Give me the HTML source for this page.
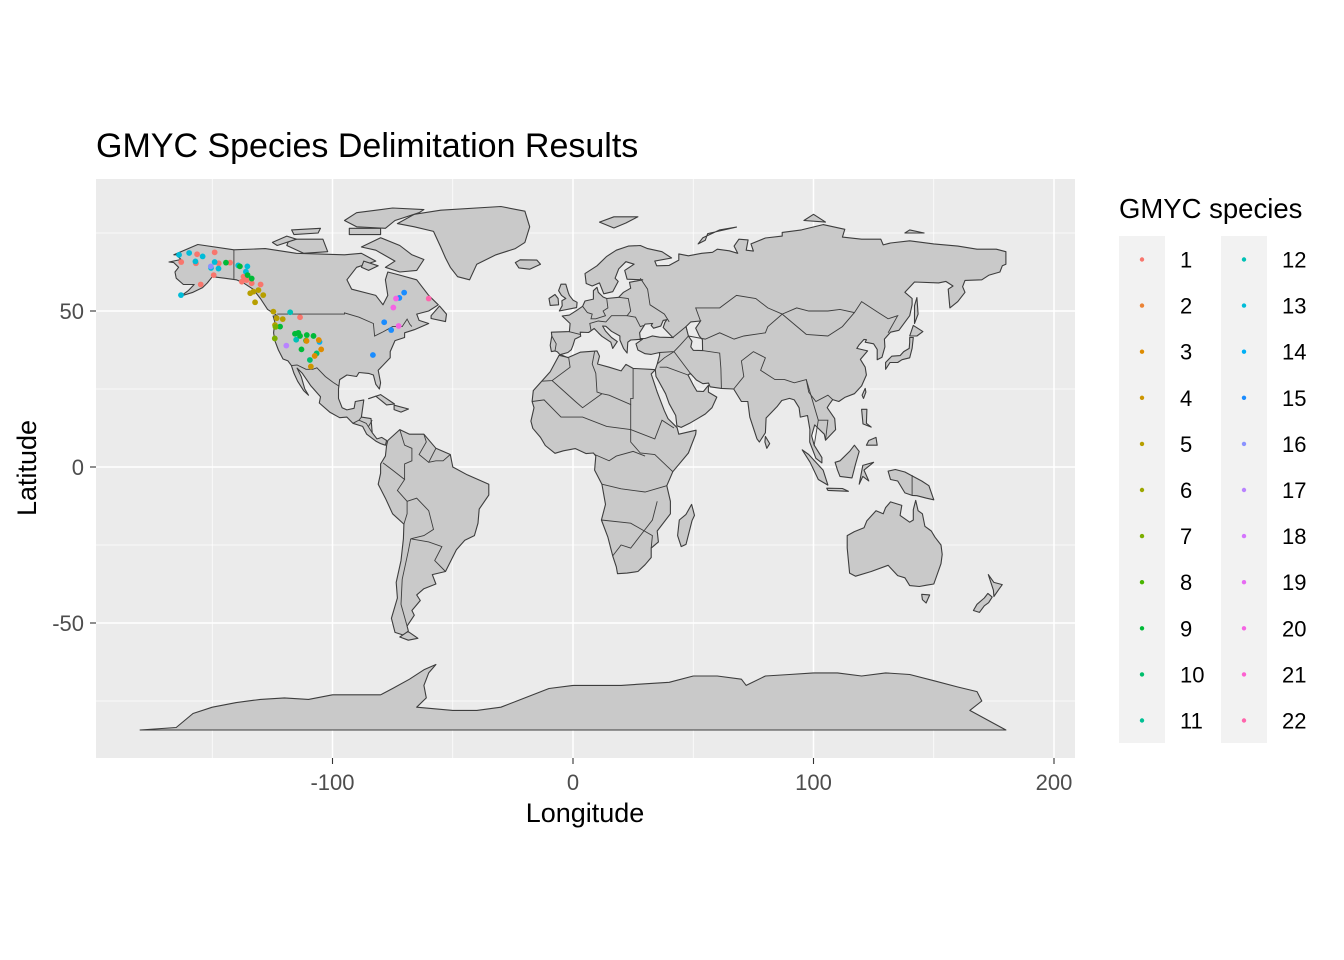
<!DOCTYPE html>
<html><head><meta charset="utf-8"><style>
body{margin:0;background:#fff;}
svg{display:block;font-family:"Liberation Sans",Arial,sans-serif;}
</style></head><body>
<svg id="chart" width="1344" height="960" viewBox="0 0 1344 960">
<defs><clipPath id="pclip"><rect x="96" y="179" width="979" height="579"/></clipPath></defs>
<text x="96" y="157" font-size="34" fill="#000">GMYC Species Delimitation Results</text>
<rect x="96" y="179" width="979" height="579" fill="#ebebeb"/>
<g id="grid"></g>
<g id="land" clip-path="url(#pclip)"></g>
<g id="pts" clip-path="url(#pclip)"></g>
<g id="axes"></g>
<text x="585" y="822" font-size="27" text-anchor="middle">Longitude</text>
<text transform="translate(36,468) rotate(-90)" font-size="27" text-anchor="middle">Latitude</text>
<text x="1119" y="218" font-size="27.5">GMYC species</text>
<g id="legend"></g>
</svg>
<script>
const NS="http://www.w3.org/2000/svg";
const xTicks=[-100,0,100,200];
const yTicks=[-50,0,50];
const xMinor=[-150,-50,50,150];
const yMinor=[-75,-25,25,75];
const speciesLabels=["1","2","3","4","5","6","7","8","9","10","11","12","13","14","15","16","17","18","19","20","21","22"];
const speciesColors=["#F8766D","#EB8335","#DE8C00","#CD9600","#B79F00","#9DA700","#7CAE00","#49B500","#00BA38","#00BE6C","#00C094","#00C1B5","#00BCD8","#00B0F6","#1A8CFF","#8B93FF","#B983FF","#D575FE","#E76BF3","#F564E3","#FD61D1","#FF65AC"];
const ptLon=[-156.3,-149.0,-162.9,-156.8,-147.3,-142.6,-149.4,-154.8,-137.0,-135.7,-137.7,-133.6,-129.9,-113.5,
-163.8,-159.6,-154.0,-157.0,-149.0,-150.5,-147.4,-139.2,-135.4,-136.0,-163.0,-117.6,-115.1,-105.4,
-144.3,-138.5,-135.3,-133.6,-113.5,-110.7,-107.9,-111.0,-115.6,-114.2,-121.8,-112.9,-106.6,-109.4,
-132.9,-130.8,-128.8,-132.2,-124.6,-123.2,-120.7,-123.9,-134.2,
-124.0,-123.7,
-110.8,-105.7,-104.7,-107.4,-109.0,
-119.2,-150.6,
-70.2,-72.2,-78.5,-75.6,-83.2,
-73.6,-74.7,-72.5,-60.0];
const ptLat=[68.2,68.8,65.7,65.3,65.3,65.5,61.5,58.5,61.0,59.9,59.4,58.9,58.5,48.0,
68.0,68.6,67.5,65.9,65.7,63.8,63.6,64.6,64.3,62.6,55.1,49.6,40.8,40.1,
65.5,64.3,61.5,60.4,42.0,42.3,42.0,40.5,42.7,43.0,45.0,37.7,36.4,34.3,
56.2,56.7,55.1,52.8,49.8,47.7,47.4,45.5,55.7,
41.2,44.9,
40.4,40.7,37.7,35.6,32.2,
38.9,64.3,
55.9,54.2,46.4,43.9,35.9,
54.0,51.1,45.2,54.0];
const ptSpecies=[1,1,1,1,1,1,1,1,1,1,1,1,1,1,
13,13,13,13,13,13,13,13,13,13,13,12,12,14,
9,9,9,9,9,9,9,9,9,9,9,9,10,10,
5,5,5,5,5,5,5,5,5,
7,7,
3,3,3,3,4,
17,16,
15,15,15,15,15,
20,20,20,22];

const X=lon=>573+2.405*lon, Y=lat=>467-3.12*lat;
function mk(tag,attrs,parent){const e=document.createElementNS(NS,tag);for(const k in attrs)e.setAttribute(k,attrs[k]);parent.appendChild(e);return e;}
const grid=document.getElementById('grid');
xMinor.forEach(v=>{const l=mk('line',{x1:X(v),x2:X(v),y1:179,y2:758,stroke:'#fff','stroke-width':0.7},grid);

});
yMinor.forEach(v=>{const l=mk('line',{x1:96,x2:1075,y1:Y(v),y2:Y(v),stroke:'#fff','stroke-width':0.7},grid);

});
xTicks.forEach(v=>{const l=mk('line',{x1:X(v),x2:X(v),y1:179,y2:758,stroke:'#fff','stroke-width':1.5},grid);

});
yTicks.forEach(v=>{const l=mk('line',{x1:96,x2:1075,y1:Y(v),y2:Y(v),stroke:'#fff','stroke-width':1.5},grid);

});
const axes=document.getElementById('axes');
xTicks.forEach(v=>{const t=mk('line',{x1:X(v),x2:X(v),y1:758,y2:764,stroke:'#333','stroke-width':1.1},axes);


const s=mk('text',{x:X(v),y:790,'font-size':22,'text-anchor':'middle',fill:'#4d4d4d'},axes);s.textContent=String(v);

});
yTicks.forEach(v=>{const t=mk('line',{x1:90,x2:96,y1:Y(v),y2:Y(v),stroke:'#333','stroke-width':1.1},axes);


const s=mk('text',{x:84,y:Y(v)+8,'font-size':22,'text-anchor':'end',fill:'#4d4d4d'},axes);s.textContent=String(v);

});

const land={
northamerica:[[-166,68],[-156,71.3],[-141,69.6],[-128,70],[-115,68.5],[-95,68],[-88,68.5],[-82,66],[-90,64],[-94,60],[-92,57],[-82,55],[-79,52],[-77,55],[-78,60],[-77,62.5],[-72,61.5],[-65,60],[-62,57],[-60,55],[-56,52],[-60,50],[-65,49],[-64,47],[-60,46],[-66,44],[-70,43],[-70,41.5],[-74,40.5],[-76,37],[-76,35],[-81,31],[-80,27],[-80.5,25],[-82,26.5],[-83,29.5],[-85,30],[-89,30.3],[-90,29],[-94,29.5],[-97,28],[-97.5,25],[-97.5,22],[-96,19],[-94,18.3],[-91,18.8],[-90.5,21],[-87,21.5],[-88,16],[-84,15.5],[-83.5,11],[-81.5,9],[-79.5,9.5],[-77.5,8.5],[-78,7],[-80,7.5],[-82,8.3],[-85.8,10.5],[-87.5,13],[-91.5,14],[-94,16],[-97,15.8],[-101,17.5],[-105.5,20.5],[-105,22.5],[-109,26],[-112.5,30],[-114.7,31.7],[-113,29],[-111.5,25],[-110,23],[-112,24.5],[-114.5,27.5],[-116,30],[-117.1,32.5],[-118.5,34],[-120.6,34.6],[-122.5,37.5],[-124,40.5],[-124.5,43],[-124,46.5],[-124.7,48.4],[-123,48.5],[-127,50.5],[-130,54],[-133,57],[-137,59],[-140,60],[-145,60.5],[-150,61],[-152,59],[-154,57.5],[-158,56],[-163,54.8],[-160,56.5],[-157.5,58.5],[-162,58.5],[-165,60.5],[-165.5,62.5],[-164,64],[-166,65.5],[-168,65.7],[-163,66.5],[-165,68]],
greenland:[[-73,78],[-66,81],[-55,82.3],[-30,83.5],[-20,82],[-18,77],[-20,72],[-24,70],[-32,68],[-40,65],[-43,60],[-48,61],[-51,64],[-53,67],[-55,70.5],[-58,75.5],[-66,77]],
baffin:[[-80,73.5],[-72,71],[-67,68],[-62,66.5],[-65,63],[-72,62.5],[-78,64],[-74,66],[-82,69.5],[-88,70.5]],
victoria:[[-118,73],[-104,73],[-102,69],[-112,68.5],[-119,71]],
ellesmere:[[-90,77],[-78,76.5],[-74,79],[-64,81.5],[-62,82.5],[-75,83],[-90,81.5],[-95,79]],
banks:[[-125,72],[-119,74],[-115,73],[-123,71]],
devon:[[-93,76.5],[-80,76.5],[-80,74.5],[-93,74.5]],
melville:[[-117,76],[-105,76.5],[-106,75],[-116,74.5]],
southampton:[[-87,66],[-81,64.5],[-85,63],[-88,64]],
newfoundland:[[-59,47.6],[-53,46.6],[-52.6,49],[-55.5,51.6],[-59,48.5]],
iceland:[[-24,65.5],[-22,66.4],[-15,66.3],[-13.5,65],[-18,63.4],[-22.5,63.8]],
cuba:[[-85,21.9],[-80,23.2],[-74.2,20.2],[-77.5,19.9],[-82,22.7]],
hispaniola:[[-74.4,19.8],[-68.4,18.6],[-71.5,17.6],[-74.4,18.4]],
southamerica:[[-77,8.5],[-72,12],[-68,10.5],[-62,10.5],[-57,6],[-51,4],[-50,0],[-44,-2.5],[-35,-5.5],[-35,-9],[-39,-13.5],[-39.5,-18],[-41,-22],[-45,-23.5],[-48.5,-26.5],[-53,-33.5],[-58.5,-34.5],[-57,-37.5],[-62,-39],[-65,-41],[-63.5,-42.8],[-67,-46],[-66,-47.5],[-69,-51],[-68.5,-52.5],[-70,-54],[-74,-53],[-75.5,-48.5],[-73,-42],[-73.5,-37],[-71.5,-30],[-70.5,-23],[-70.3,-18.3],[-75,-15],[-78,-10],[-81,-5.5],[-80,-2],[-80,1],[-78,3.5],[-77.5,7]],
fuego:[[-68.6,-52.7],[-64.5,-54.9],[-68.5,-55.5],[-72,-54.5]],
africa:[[-17,21],[-16.5,24.5],[-13,27.5],[-9.5,30.5],[-5.8,35.8],[-2,35.1],[3,36.8],[10,37.2],[11,35.5],[10.2,33],[15,32],[20,30.8],[22,32.9],[25,31.6],[32,31.3],[34.2,31.2],[32.5,29.8],[35,24],[38,18],[39.5,15.5],[43.3,12.6],[44,10.5],[51.2,11.8],[51,10.5],[48,4.5],[41.5,-1.5],[39,-6],[40.5,-11],[40.5,-15],[35,-20.5],[35.5,-24],[32.5,-26],[32.5,-29],[30,-31.3],[27,-33.5],[22.5,-34],[18.5,-34.2],[18,-32],[16.5,-28.5],[14.5,-22.5],[11.8,-17],[13.5,-12],[12,-5.5],[9,-1],[9.5,3.5],[8.5,4.5],[5.5,4.3],[1,5.9],[-4,5.2],[-7.5,4.4],[-11.5,6.9],[-13.5,9.5],[-16.7,12.4],[-17.5,14.7],[-16.2,19]],
madagascar:[[49.3,-12],[50.5,-15.5],[49.5,-17.2],[47,-24.8],[45,-25.5],[43.5,-22],[44.2,-17],[47,-15.2]],
eurasia:[[-9,37],[-9.5,39],[-8.8,42],[-9,43.2],[-1.5,43.4],[-1.2,46],[-4.5,48.4],[-1.5,48.7],[1.5,50.2],[4,51.5],[5,53.2],[8.5,53.8],[8.5,56.5],[10,57.6],[10.5,56],[12.5,54.5],[14,54],[19,54.4],[21,56],[24,57.3],[23.5,59.2],[29,60],[22.5,60.2],[21.5,63],[25.4,65],[22,65.8],[19,63.5],[17.5,60.5],[18.8,59.5],[16.5,56.2],[12.8,55.5],[11,59],[8,58],[5.5,58.8],[5,62],[10,64.5],[14,67.5],[18,69.5],[23,70.8],[28,71],[31,70],[37,69],[41,67],[34,66],[34.8,64.5],[40,64.6],[44,66.3],[44,68.3],[48,67.7],[53.5,68.5],[58,68.8],[60,69.8],[65,69.3],[68.5,68.5],[67,70.8],[69,73],[72.8,72.8],[72,69.5],[75,69.2],[74,71.5],[80,73.4],[87,74],[87,75.2],[95,76],[104,77.7],[113,76.2],[112,73.7],[120,73],[128,73],[129,71.2],[132,71.8],[140,72.5],[150,71.5],[160,70.8],[168,69.8],[176,69.8],[180,69],[180,65],[178.5,64.5],[177.5,62.5],[173,61.5],[170,60],[163,59.8],[162,57.8],[163,56],[160,53],[156.7,51],[156,57],[158,58],[155,59.5],[152,59],[142,59.3],[138,56],[141,54],[141,52],[140,48.5],[135.5,43.8],[132,43.2],[129.5,41],[129.7,38.5],[128.5,35.2],[126.5,34.4],[126.5,37.7],[125,39.5],[121.5,40],[122,40.8],[121,40.9],[119,39.2],[118,38],[122.5,37.2],[119.5,34.5],[121.5,32],[122,29.5],[120,26],[117,23.5],[113,22.3],[110.5,21],[108,21.6],[106.5,20],[105.7,19],[108.8,15.5],[109.2,12],[105,8.6],[104.5,10.5],[100.5,13.5],[99.2,10],[100.3,7],[103.5,3],[103.5,1.3],[101,2.8],[98.4,8],[98.5,12],[97.5,16.5],[94.5,16],[94,19],[92,21.5],[90,22],[86.8,21.3],[85,19.5],[80.3,15.7],[80,11],[77.5,8],[76.5,9],[73.5,16],[72.7,21],[70,21],[66.8,25],[61.7,25.2],[57,25.7],[56.4,26.9],[54,26.7],[51.3,27.9],[48.8,30],[47.8,29.5],[50.2,26],[51.5,24.3],[54.2,24.2],[56.3,26.2],[56.3,24],[59.8,22.4],[57.8,19],[55,17],[52,15.6],[48.5,14],[45,12.7],[43.2,13.2],[42.7,16.5],[40,20.3],[38.5,23.5],[35.2,28.1],[34.5,29],[34.2,31.2],[35,33],[36,35.8],[36,36.7],[32.5,36.1],[30,36.3],[27,37.5],[26.2,39.5],[29,41],[26,40.8],[24,40.7],[22.8,40],[22.5,36.5],[21,38],[19.5,40.7],[19.5,42],[16,43.5],[13.7,45.1],[12.3,45.2],[13.5,43.6],[16,41.5],[18.4,40.2],[16.5,38],[15.7,40],[12,41.9],[10.5,43],[8.8,44.4],[6.5,43.1],[3,43.2],[3.2,41.9],[0.8,41],[0,39],[-0.7,37.6],[-2.1,36.7],[-5.4,36],[-6.5,36.9],[-7.5,37.2]],
britain:[[-5.7,50],[1.5,51.1],[1.7,52.8],[0,53.5],[-1.5,55],[-2,56],[-3,58.6],[-5,58.6],[-6,56.5],[-4.8,55],[-3,54],[-4.6,53.3],[-4.5,51.7]],
ireland:[[-6,52],[-6.2,54],[-7.5,55.3],[-10,54],[-9.5,51.8]],
honshu:[[130,31.3],[131.8,33.5],[135,33.5],[136.8,34.4],[140,35],[141,38],[141.5,41.5],[140,41.5],[140,40],[139.8,38],[137.5,37],[136,35.7],[132.5,35.5],[130,33.5]],
hokkaido:[[140,42],[141.5,45.4],[145.5,43.4],[143,42]],
sakhalin:[[142,46],[143.5,49],[143,54.3],[142,51.7]],
srilanka:[[80,9.8],[81.8,7.5],[80.6,6],[79.8,8]],
taiwan:[[120.2,23],[121.5,25.2],[121.8,24],[120.8,22]],
luzon:[[120,18.5],[122.2,18.5],[122,14],[124,12.8],[120.6,13.8]],
mindanao:[[122,7],[126.5,7],[126,9.5],[123,8.5]],
borneo:[[109,1.5],[111,2],[115,5],[117,7],[119,5],[117.5,1],[116,-3.5],[111,-3],[110,-1]],
sumatra:[[95.3,5.5],[98,4],[104,-1],[106,-5.8],[102,-4],[98.6,1.5]],
java:[[105.5,-6.8],[112,-6.9],[114.5,-7.8],[106,-7.5]],
sulawesi:[[119,-5.5],[120.5,0.5],[125,1.5],[121,-1],[123,-4.5],[120.5,-3]],
newguinea:[[131,-1.3],[134,-0.8],[138,-1.6],[145,-4.5],[148,-6],[150,-10.5],[147,-10],[143,-9.2],[141,-9.1],[138,-8.3],[135,-4.5],[132,-4]],
australia:[[114,-22],[114,-26],[115,-34],[117.5,-35],[124,-33.5],[131,-31.5],[135,-34.8],[138,-35.5],[140,-38],[144,-38.3],[147,-37.9],[150,-37.5],[153,-31],[153.5,-28],[153,-25],[150.5,-22.5],[149,-20.5],[146.3,-19],[145.3,-15],[143.5,-14],[142.5,-10.7],[141.5,-13.7],[141.5,-17],[140,-17.7],[136,-15.5],[136.7,-12.3],[132,-11.2],[130,-13],[129,-15],[126,-14],[122.2,-17.2],[121,-19.5],[117,-20.7]],
tasmania:[[145,-40.8],[148.3,-41],[146.8,-43.6],[145.3,-42.5]],
nznorth:[[172.7,-34.5],[175,-37],[178.5,-37.7],[177,-39.3],[175,-41.5],[174.8,-39.5]],
nzsouth:[[172.5,-40.5],[174.3,-41.7],[172.8,-43.5],[171,-44.5],[169,-46.6],[166.5,-46],[168,-44],[171,-42]],
novayazemlya:[[52,71.5],[55,72.7],[56,74.8],[68,76.9],[61,76],[54,73.5]],
svalbard:[[11,78.5],[17,76.6],[22,78.2],[27,80.2],[17,80.2]],
severnaya:[[96,79],[105,78.5],[100,81]],
newsiberia:[[138,75],[146,75],[140,76]],
antarctica:[[-180,-84.3],[-165,-83.5],[-158,-79],[-150,-77],[-140,-75.5],[-130,-74.5],[-120,-74],[-110,-74.5],[-100,-73],[-90,-73],[-80,-73],[-75,-71],[-68,-68],[-62,-65],[-57,-63.3],[-60,-66],[-62,-70],[-61,-74],[-65,-77],[-50,-78],[-40,-78],[-30,-77],[-20,-74],[-10,-71],[0,-70],[10,-70],[20,-70],[30,-69.5],[40,-69],[50,-67],[60,-67],[70,-68],[72,-70],[80,-67],[90,-66.5],[100,-66],[110,-66],[120,-67],[130,-66],[140,-66.5],[150,-68.5],[160,-70.5],[168,-72],[170,-75],[165,-78],[180,-84.3]]
};
const seas={
blacksea:[[28,41.2],[27.7,43],[30,45.8],[33,46],[32.5,45.4],[33.5,44.5],[36.5,45.2],[37.5,47],[39,47.2],[38.2,46.3],[37.5,44.7],[41.5,41.5],[36,41.6],[33,42],[30,41.2]],
caspian:[[47,45],[49,46.5],[53,46.8],[51,44.5],[52.5,42],[53.8,40.8],[53.9,37.3],[50,37.4],[49,38.5],[49.5,40.3],[48,42],[47.5,43.5]]
};
const borders=[
[[-123,49],[-95,49],[-95,49.4],[-89,48],[-83,46],[-82.5,42],[-79,43.3],[-75,45],[-71,45],[-69,47.4],[-67.8,45.7],[-67,45]],
[[-141,60.3],[-141,69.6]],
[[-117.1,32.5],[-114.7,32.7],[-111,31.3],[-108.2,31.3],[-106.5,31.8],[-103,29],[-99.5,27],[-97.2,25.9]],
[[-5,36],[-2,35]],[[9,37],[8,33],[9.5,30],[10,24],[12,23.5],[15,23],[24,20],[24,22],[25,22],[25,31.6]],
[[-8.7,27.7],[-4.8,25],[1,21],[4,19],[12,23.5]],[[-17,21],[-12,21.5],[-5,16],[4,16],[14,13],[24,12],[34,9],[37,15],[42,12.5]],
[[-1.8,35],[-1.2,32],[-8.7,27.7],[-13,27.5]],[[24,20],[24,8],[28,4.5],[34,4],[41.5,-1.5]],[[9,4],[15,2],[18,3.5],[25,5],[30,3.5]],
[[12,-5.5],[20,-7],[30,-8],[39,-6]],[[11.8,-17],[24,-18],[33,-22],[32.5,-26]],[[16.5,-28.5],[20,-25],[24,-26],[28,-22],[33,-17],[35,-11]],
[[19,54.4],[23,54],[24,50],[22.5,48.5],[26,48],[28,45],[29.5,45.4]],[[14,54],[14.5,51],[12.5,50],[13.5,48.5],[9.5,47.5],[7.5,47.5],[8,49],[6,49.5],[4,51.5]],
[[-1.8,43.4],[3,42.5]],[[-8.8,42],[-7,39.5],[-7.5,37.2]],[[7.5,43.8],[7,46],[10.5,46.8],[13.7,46.5],[16,48.5],[22.5,48.5]],
[[28,60.5],[31,57],[32,52],[38,49],[40,46.5]],[[41.5,41.5],[47,45],[47.5,43.5]],[[36,36.7],[42,37],[44.5,39],[48,42]],[[42,37],[48.8,30]],
[[36,32],[39,32],[47.8,29.5]],[[35,33],[38,35],[42,37]],[[53.9,37.3],[61,36.5],[61.5,31.5],[61.7,25.2]],[[66.8,25],[71,29],[70,34],[75,37],[80,35],[78,31],[84,28],[88,28],[92,27],[97,28],[98,24],[101,21],[106,23],[108,21.6]],
[[48,42],[55,41],[61,43],[67,41],[71,42],[80,43],[81,45],[87,49],[93,51],[98,50],[106,50],[111,50.5],[117,49.5],[120,53],[127,49.5],[131,47.5],[135,48.5],[131,43]],
[[53,46.8],[51,51],[61,51],[68,55],[76,54],[81,51],[87,49]],[[87,49],[97,42.5],[106,42],[112,45],[117,49.5]],[[97,28],[102,15],[100.3,7]],[[102,15],[106,15],[105,8.6]],
[[-69,-51],[-71.5,-44],[-71,-36],[-68.5,-27],[-67.5,-23]],[[-70.3,-18.3],[-69,-15],[-69,-11],[-73,-7.5],[-70,-4],[-75,-1],[-79,1.3]],[[-69,-11],[-65,-10],[-60,-14],[-58,-20],[-62,-22],[-67.5,-23],[-60,-24],[-54.5,-25.5],[-57.5,-30],[-53,-33.5]],
[[-72,12],[-70,7],[-67,6],[-67,2],[-70,1],[-70,-4]],[[-62,10.5],[-61,8],[-64,4],[-60,1.5],[-57,6]],[[-51,4],[-54,2],[-57,2],[-60,1.5]],
[[-88,16],[-89,15],[-91.5,14]],[[-83.5,11],[-86,14],[-89,15]],[[-83.5,15],[-85,13]],[[141,-2.6],[141,-9.1]]
];
const landG=document.getElementById('land');
const path=pts=>'M'+pts.map(p=>X(p[0]).toFixed(1)+','+Y(p[1]).toFixed(1)).join('L')+'Z';
for(const k in land){const p=mk('path',{d:path(land[k]),fill:'#c9c9c9',stroke:'#3d3d3d','stroke-width':1.1,'stroke-linejoin':'round'},landG);

}
for(const k in seas){const p=mk('path',{d:path(seas[k]),fill:'#ebebeb',stroke:'#3d3d3d','stroke-width':1.1},landG);

}
borders.forEach(b=>{const p=mk('path',{d:'M'+b.map(q=>X(q[0]).toFixed(1)+','+Y(q[1]).toFixed(1)).join('L'),fill:'none',stroke:'#3d3d3d','stroke-width':0.9},landG);

});

const ptsG=document.getElementById('pts');
ptLon.forEach((lon,i)=>{const c=mk('circle',{cx:X(lon),cy:Y(ptLat[i]),r:2.9,fill:speciesColors[ptSpecies[i]-1]},ptsG);

});

const lg=document.getElementById('legend');
[[1119,0],[1221,11]].forEach(([x0,off])=>{const r=mk('rect',{x:x0,y:236,width:46,height:507,fill:'#f2f2f2'},lg);


for(let j=0;j<11;j++){const i=off+j;const cy=259.5+46.1*j;
const g=mk('g',{},lg);


mk('circle',{cx:x0+23,cy:cy,r:2.2,fill:speciesColors[i]},g);
const t=mk('text',{x:x0+61,y:cy+8,'font-size':22,fill:'#000'},g);t.textContent=speciesLabels[i];}});
</script>
</body></html>
